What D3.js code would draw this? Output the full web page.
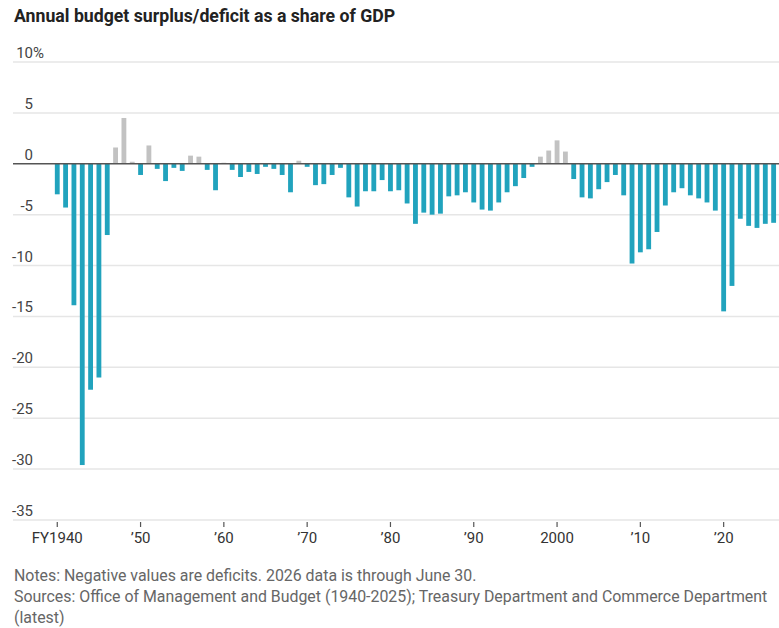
<!DOCTYPE html>
<html lang="en">
<head>
    <meta charset="UTF-8">
    <title>Annual budget surplus/deficit as a share of GDP</title>
    <script src="https://cdnjs.cloudflare.com/ajax/libs/d3/7.8.5/d3.min.js"></script>
    <style>
        body {
            margin: 0;
            padding: 0;
            background-color: #fff;
            font-family: "Roboto", sans-serif;
        }
    </style>
</head>
<body>
    <div id="chart"></div>

    <script>
        // Surplus (+) / deficit (-) as % of GDP, fiscal years 1940..2026
        const firstYear = 1940;
        const values = [
            -3.0, -4.3, -13.9, -29.6, -22.2, -21.0, -7.0, 1.6, 4.5, 0.2,
            -1.1, 1.8, -0.5, -1.7, -0.4, -0.7, 0.8, 0.7, -0.6, -2.6,
            0.1, -0.6, -1.3, -0.8, -1.0, -0.3, -0.5, -1.1, -2.8, 0.3,
            -0.3, -2.1, -2.0, -1.1, -0.4, -3.3, -4.2, -2.7, -2.7, -1.6,
            -2.7, -2.6, -3.9, -5.9, -4.8, -5.0, -4.9, -3.2, -3.1, -2.8,
            -3.8, -4.5, -4.6, -3.8, -2.8, -2.2, -1.4, -0.3, 0.7, 1.3,
            2.3, 1.2, -1.5, -3.3, -3.4, -2.5, -1.8, -1.1, -3.1, -9.8,
            -8.7, -8.4, -6.7, -4.1, -2.8, -2.4, -3.1, -3.4, -3.8, -4.6,
            -14.5, -12.0, -5.4, -6.1, -6.3, -5.9, -5.8
        ];
        const years = d3.range(firstYear, firstYear + values.length);

        const yTicks = [10, 5, 0, -5, -10, -15, -20, -25, -30, -35];
        const xTicks = [1940, 1950, 1960, 1970, 1980, 1990, 2000, 2010, 2020];
        const xTickLabels = ["FY1940", "\u201950", "\u201960", "\u201970", "\u201980", "\u201990", "2000", "\u201910", "\u201920"];

        const title = "Annual budget surplus/deficit as a share of GDP";
        const notes = [
            "Notes: Negative values are deficits. 2026 data is through June 30.",
            "Sources: Office of Management and Budget (1940-2025); Treasury Department and Commerce Department",
            "(latest)"
        ];

        const width = 779;
        const height = 628;

        const svg = d3.select("#chart")
            .append("svg")
            .attr("width", width)
            .attr("height", height);

        const x = d3.scaleBand()
            .domain(years)
            .range([53.1, 777.8])
            .paddingInner(0.42)
            .paddingOuter(0.21);

        const y = d3.scaleLinear()
            .domain([-35, 10])
            .range([520, 62]);

        // title
        svg.append("text")
            .attr("x", 14)
            .attr("y", 22)
            .attr("font-size", 17.7)
            .attr("font-weight", "bold")
            .attr("fill", "#222")
            .text(title);

        // gridlines
        svg.append("g")
            .selectAll("line")
            .data(yTicks.filter(d => d !== 0))
            .join("line")
            .attr("x1", 13)
            .attr("x2", width)
            .attr("y1", d => y(d))
            .attr("y2", d => y(d))
            .attr("stroke", "#e6e6e6")
            .attr("stroke-width", 1.5);

        // y labels
        const yLab = svg.append("g")
            .attr("font-size", 15)
            .attr("fill", "#444");
        yLab.selectAll("text")
            .data(yTicks)
            .join("text")
            .attr("x", 33)
            .attr("y", d => y(d) - 4)
            .attr("text-anchor", "end")
            .text(d => d);
        yLab.append("text")
            .attr("x", 33)
            .attr("y", y(yTicks[0]) - 4)
            .text("%");

        // bars
        svg.append("g")
            .selectAll("rect")
            .data(years)
            .join("rect")
            .attr("x", (d) => x(d))
            .attr("width", x.bandwidth())
            .attr("y", (d, i) => y(Math.max(0, values[i])))
            .attr("height", (d, i) => Math.abs(y(values[i]) - y(0)))
            .attr("fill", (d, i) => values[i] >= 0 ? "#c2c2c2" : "#21a3bd");

        // zero line
        svg.append("line")
            .attr("x1", 13)
            .attr("x2", width)
            .attr("y1", y(0))
            .attr("y2", y(0))
            .attr("stroke", "#555")
            .attr("stroke-width", 1.5);

        // x axis ticks
        const xAxis = svg.append("g");
        xAxis.selectAll("line")
            .data(xTicks)
            .join("line")
            .attr("x1", d => x(d) + x.bandwidth() / 2)
            .attr("x2", d => x(d) + x.bandwidth() / 2)
            .attr("y1", 522)
            .attr("y2", 527)
            .attr("stroke", "#555")
            .attr("stroke-width", 1.2);
        xAxis.selectAll("text")
            .data(xTicks)
            .join("text")
            .attr("x", d => x(d) + x.bandwidth() / 2)
            .attr("y", 543)
            .attr("text-anchor", "middle")
            .attr("font-size", 15)
            .attr("fill", "#333")
            .text((d, i) => xTickLabels[i]);

        // notes
        svg.append("g")
            .selectAll("text")
            .data(notes)
            .join("text")
            .attr("x", 14)
            .attr("y", (d, i) => 581 + i * 21)
            .attr("font-size", 15.9)
            .attr("fill", "#666")
            .text(d => d);
    </script>
</body>
</html>
